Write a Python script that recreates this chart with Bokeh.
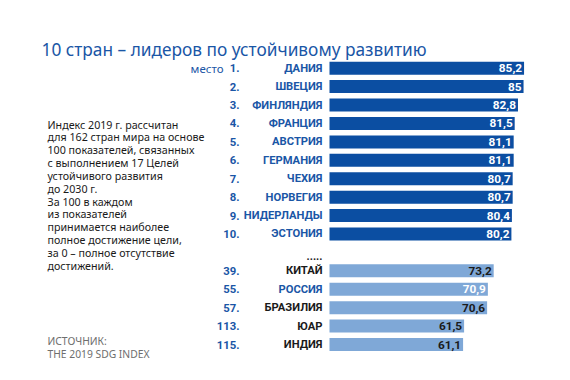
from bokeh.plotting import figure
from bokeh.models import ColumnDataSource, Range1d
from bokeh.core.properties import value
from bokeh.embed import file_html
from bokeh.resources import INLINE

# ---- data ----
top_ranks = ["1.", "2.", "3.", "4.", "5.", "6.", "7.", "8.", "9.", "10."]
top_countries = ["ДАНИЯ", "ШВЕЦИЯ", "ФИНЛЯНДИЯ", "ФРАНЦИЯ", "АВСТРИЯ",
                 "ГЕРМАНИЯ", "ЧЕХИЯ", "НОРВЕГИЯ", "НИДЕРЛАНДЫ", "ЭСТОНИЯ"]
top_values = [85.2, 85.0, 82.8, 81.5, 81.1, 81.1, 80.7, 80.7, 80.4, 80.2]
top_labels = ["85,2", "85", "82,8", "81,5", "81,1", "81,1", "80,7", "80,7", "80,4", "80,2"]

other_ranks = ["39.", "55.", "57.", "113.", "115."]
other_countries = ["КИТАЙ", "РОССИЯ", "БРАЗИЛИЯ", "ЮАР", "ИНДИЯ"]
other_values = [73.2, 70.9, 70.6, 61.5, 61.1]
other_labels = ["73,2", "70,9", "70,6", "61,5", "61,1"]

title_text = "10 стран – лидеров по устойчивому развитию"
note_lines = ["Индекс 2019 г. рассчитан",
              "для 162 стран мира на основе",
              "100 показателей, связанных",
              "с выполнением 17 Целей",
              "устойчивого развития",
              "до 2030 г.",
              "За 100 в каждом",
              "из показателей",
              "принимается наиболее",
              "полное достижение цели,",
              "за 0 – полное отсутствие",
              "достижений."]
source_lines = ["ИСТОЧНИК:", "THE 2019 SDG INDEX"]

# ---- styling / layout ----
W, H = 554, 364
PX0 = 308.0      # canvas x of value 0
PXU = 2.53       # pixels per unit
ROW0 = 67.7      # canvas y of first row centre
ROWH = 18.42     # row pitch
BASE = 8.3       # value where the bars start (cut scale)

DARK = "#0b4ea2"
LIGHT = "#7fa8d7"
BLUE_TXT = "#1a56a6"
FONT = value("Noto Sans")
BFONT = value("Roboto")

def dx(px):
    return (px - PX0) / PXU

def dy(py):
    return -(py - ROW0) / ROWH

p = figure(width=W, height=H, output_backend="svg", toolbar_location=None,
           x_range=Range1d(dx(0), dx(W)), y_range=Range1d(dy(H), dy(0)),
           min_border=0, outline_line_color=None, background_fill_color="white",
           border_fill_color="white")
p.axis.visible = False
p.grid.visible = False

top_y = [-i for i in range(len(top_values))]
other_y = [-(11 + i) for i in range(len(other_values))]

top_src = ColumnDataSource(dict(y=top_y, v=top_values, lab=top_labels,
                                rank=top_ranks, name=top_countries))
oth_name_colors = [BLUE_TXT if c == "РОССИЯ" else "#1a1a1a" for c in other_countries]
oth_val_colors = ["white" if c == "РОССИЯ" else "#1a1a1a" for c in other_countries]
oth_src = ColumnDataSource(dict(y=other_y, v=other_values, lab=other_labels,
                                rank=other_ranks, name=other_countries,
                                ncol=oth_name_colors, vcol=oth_val_colors))

BAR_H = 13.0 / ROWH
p.hbar(y="y", left=BASE, right="v", height=BAR_H, source=top_src,
       fill_color=DARK, line_color=None)
p.hbar(y="y", left=BASE, right="v", height=BAR_H, source=oth_src,
       fill_color=LIGHT, line_color=None)

common = dict(text_font=BFONT, text_font_style="bold",
              text_baseline="middle", text_align="right")

# values
p.text(x="v", y="y", text="lab", source=top_src, x_offset=-2, text_color="white",
       text_font_size="11.8px", **common)
p.text(x="v", y="y", text="lab", source=oth_src, x_offset=-2, text_color="vcol",
       text_font_size="11.8px", **common)

# ranks
RANK_X = dx(239)
NAME_X = dx(322)
p.text(x=RANK_X, y="y", text="rank", source=top_src, text_color=BLUE_TXT,
       text_font_size="11.3px", **common)
p.text(x=RANK_X, y="y", text="rank", source=oth_src, text_color=BLUE_TXT,
       text_font_size="11.3px", **common)
# country names
p.text(x=NAME_X, y="y", text="name", source=top_src, text_color=BLUE_TXT,
       text_font_size="11.2px", **common)
p.text(x=NAME_X, y="y", text="name", source=oth_src, text_color="ncol",
       text_font_size="11.2px", **common)

# "место" and dots
p.text(x=[dx(223)], y=[0], text=["место"], text_font=FONT, text_font_size="11.5px",
       text_baseline="middle", text_align="right", text_color=BLUE_TXT)
p.text(x=[NAME_X], y=[dy(255.5)], text=["....."], text_font=BFONT, text_font_size="11px",
       text_font_style="bold", text_baseline="alphabetic", text_align="right",
       text_color="#222222")

# title
p.text(x=[dx(41)], y=[dy(49)], text=[title_text], text_font=FONT,
       text_font_size="17.3px", text_baseline="alphabetic", text_align="left",
       text_color=BLUE_TXT)

# note paragraph
NOTE_TOP = 115.5
NOTE_PITCH = 12.85
p.text(x=[dx(47)] * len(note_lines),
       y=[dy(NOTE_TOP + 8.5 + i * NOTE_PITCH) for i in range(len(note_lines))],
       text=note_lines, text_font=FONT, text_font_size="10.7px",
       text_baseline="alphabetic", text_align="left", text_color="#1a1a1a")

# source
p.text(x=[dx(47)] * 2, y=[dy(340.5), dy(353.3)], text=source_lines, text_font=FONT,
       text_font_size="10.3px", text_baseline="alphabetic", text_align="left",
       text_color="#6e6e6e")

open("out.html", "w").write(file_html(p, INLINE))
